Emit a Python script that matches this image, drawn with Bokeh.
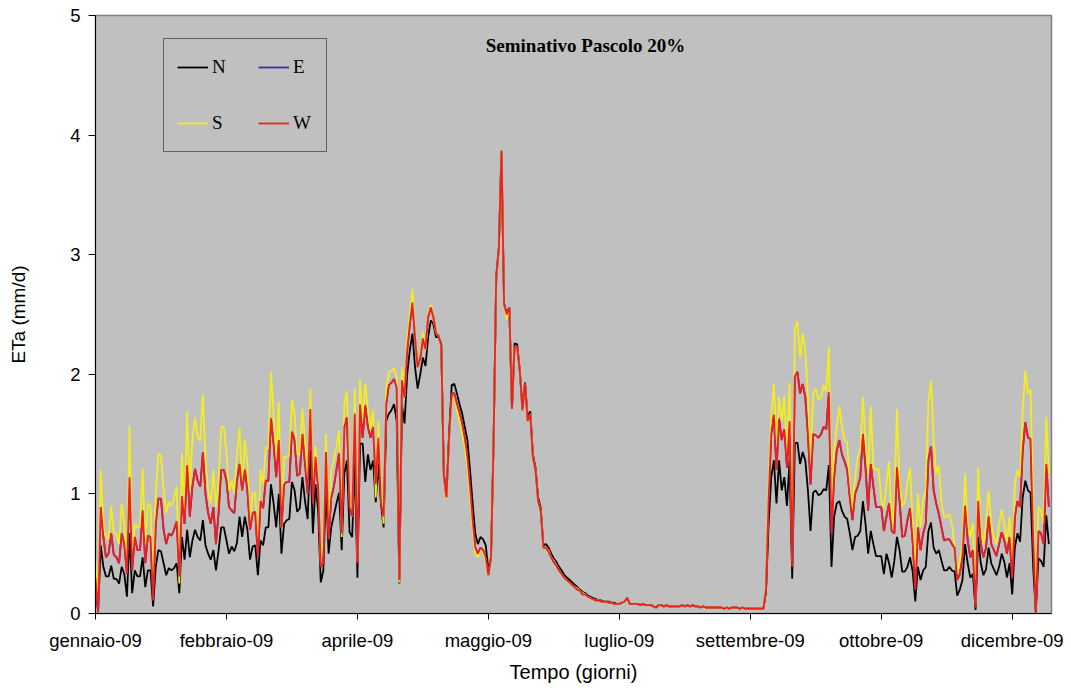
from bokeh.plotting import figure
from bokeh.models import ColumnDataSource, FixedTicker, Range1d, Legend, LegendItem, Label
from bokeh.embed import file_html
from bokeh.resources import INLINE

# ---------------- data ----------------
days = list(range(365))
tick_days = [0, 50, 100, 150, 200, 250, 300, 350]
tick_labels = ["gennaio-09", "febbraio-09", "aprile-09", "maggio-09",
               "luglio-09", "settembre-09", "ottobre-09", "dicembre-09"]
y_ticks = [0, 1, 2, 3, 4, 5]

N_vals = [
    .22, .02, .57, .39, .31, .31, .40, .29, .29, .25,
    .39, .33, .14, .67, .17, .36, .31, .31, .47, .22,
    .36, .36, .06, .39, .53, .52, .42, .32, .38, .36,
    .38, .42, .17, .64, .45, .70, .47, .61, .70, .64,
    .61, .78, .57, .50, .45, .53, .36, .53, .72, .72,
    .61, .50, .56, .52, .59, .81, .64, .81, .70, .45,
    .56, .57, .32, .61, .57, .72, .72, 1.08, .92, .72,
    1.00, .50, .75, .78, .79, 1.10, 1.03, .85, .88, 1.14,
    .94, .79, 1.36, .67, 1.08, .86, .26, .36, 1.08, .50,
    .72, .82, .92, 1.01, .53, 1.17, 1.28, .68, .64, 1.28,
    .30, 1.42, 1.42, 1.10, 1.33, 1.20, 1.28, .93, 1.25, .92,
    .72, 1.61, 1.67, 1.70, 1.75, 1.61, .25, 1.74, 1.59, 2.00,
    2.20, 2.34, 2.06, 1.88, 2.00, 2.14, 2.07, 2.31, 2.45, 2.42,
    2.31, 2.31, 2.25, 1.17, 1.00, 1.50, 1.91, 1.92, 1.84, 1.75,
    1.67, 1.56, 1.45, 1.20, .92, .67, .58, .64, .62, .57,
    .36, .47, 1.45, 2.80, 3.06, 3.85, 2.59, 2.50, 2.56, 1.71,
    2.26, 2.25, 2.03, 1.72, 1.93, 1.64, 1.69, 1.33, 1.22, .97,
    .88, .57, .58, .55, .50, .46, .43, .39, .36, .32,
    .30, .28, .26, .24, .22, .20, .18, .17, .15, .14,
    .13, .12, .11, .11, .10, .10, .10, .09, .09, .08,
    .08, .09, .10, .13, .08, .08, .08, .08, .07, .08,
    .07, .07, .07, .06, .05, .07, .07, .06, .07, .06,
    .06, .06, .06, .06, .07, .06, .07, .06, .07, .06,
    .06, .05, .06, .05, .05, .05, .05, .05, .05, .05,
    .04, .05, .04, .05, .05, .05, .04, .05, .04, .04,
    .04, .04, .04, .04, .04, .04, .18, .75, 1.14, 1.28,
    .92, 1.28, 1.03, 1.14, .90, 1.28, .29, 1.42, 1.43, 1.25,
    1.35, 1.28, 1.03, .69, 1.01, 1.03, .99, 1.00, 1.04, 1.03,
    1.24, .39, .81, .92, .94, .86, .81, .79, .67, .53,
    .64, .65, .69, .94, .75, .50, .69, .58, .48, .48,
    .48, .33, .50, .42, .30, .44, .64, .53, .35, .35,
    .39, .47, .35, .10, .39, .28, .36, .39, .69, .76,
    .55, .50, .53, .44, .36, .36, .39, .36, .35, .15,
    .20, .28, .58, .42, .30, .33, .03, .64, .42, .32,
    .37, .55, .42, .37, .32, .39, .50, .43, .30, .42,
    .16, .55, .67, .60, .97, 1.11, 1.03, 1.01, .39, .01,
    .46, .44, .39, .82, .58,
]

S_vals = [
    .45, .05, 1.20, .72, .64, .62, .90, .67, .67, .58,
    .92, .75, .42, 1.57, .45, .75, .72, .72, 1.21, .58,
    .92, .90, .22, .98, 1.34, 1.32, 1.03, .84, .93, .90,
    .96, 1.06, .25, 1.34, .81, 1.69, 1.03, 1.45, 1.64, 1.48,
    1.44, 1.83, 1.28, 1.03, .92, 1.20, .89, 1.11, 1.56, 1.56,
    1.34, 1.03, 1.11, 1.00, 1.34, 1.55, 1.03, 1.45, 1.25, .75,
    1.00, 1.01, .53, 1.20, 1.08, 1.39, 1.38, 2.02, 1.67, 1.28,
    1.77, .72, 1.31, 1.31, 1.32, 1.79, 1.67, 1.33, 1.33, 1.71,
    1.43, 1.08, 1.88, 1.06, 1.40, 1.15, .42, .64, 1.50, .69,
    1.20, 1.28, 1.39, 1.53, .64, 1.75, 1.86, .97, .81, 1.88,
    .44, 1.96, 1.59, 1.92, 1.70, 1.53, 1.70, .97, 1.61, 1.08,
    .75, 1.86, 2.02, 2.03, 2.05, 1.98, .26, 2.06, 1.81, 2.28,
    2.50, 2.71, 2.34, 2.06, 2.17, 2.35, 2.20, 2.50, 2.58, 2.48,
    2.34, 2.32, 2.23, 1.14, .96, 1.45, 1.78, 1.81, 1.70, 1.61,
    1.50, 1.39, 1.22, .97, .72, .50, .47, .54, .51, .44,
    .32, .47, 1.45, 2.80, 3.06, 3.87, 2.59, 2.46, 2.56, 1.71,
    2.23, 2.23, 2.03, 1.70, 1.92, 1.61, 1.67, 1.31, 1.20, .94,
    .86, .55, .55, .53, .47, .44, .40, .36, .33, .30,
    .28, .26, .24, .22, .21, .19, .17, .16, .14, .13,
    .12, .11, .11, .10, .10, .10, .09, .09, .08, .08,
    .08, .09, .10, .13, .08, .08, .08, .08, .07, .08,
    .07, .07, .07, .06, .05, .07, .07, .06, .07, .06,
    .06, .06, .06, .06, .07, .06, .07, .06, .07, .06,
    .06, .05, .06, .05, .05, .05, .05, .05, .05, .05,
    .04, .05, .04, .05, .05, .05, .04, .05, .04, .04,
    .04, .04, .04, .04, .04, .04, .22, 1.10, 1.64, 1.92,
    1.39, 1.81, 1.61, 1.82, 1.31, 1.93, .44, 2.38, 2.44, 2.14,
    2.34, 2.20, 1.81, 1.22, 1.84, 1.88, 1.79, 1.81, 1.91, 1.86,
    2.23, .94, 1.36, 1.56, 1.73, 1.56, 1.45, 1.43, 1.06, .86,
    1.14, 1.31, 1.36, 1.81, 1.42, 1.17, 1.73, 1.22, 1.20, 1.21,
    .94, .88, 1.08, 1.27, .69, .92, 1.71, 1.08, .90, .93,
    1.10, 1.22, .75, .35, 1.00, .72, .95, 1.03, 1.78, 1.95,
    1.45, 1.17, 1.24, .92, .81, .81, .83, .75, .55, .33,
    .44, .58, 1.17, .75, .64, .75, .08, 1.22, .69, .58,
    .75, 1.03, .75, .64, .58, .75, .87, .75, .60, .81,
    .39, 1.08, 1.20, 1.14, 1.70, 2.03, 1.84, 1.87, .92, .03,
    .89, .86, .75, 1.64, 1.17,
]

W_vals = [
    .30, .01, .89, .64, .47, .50, .67, .49, .47, .42,
    .67, .58, .33, 1.14, .36, .64, .53, .53, .86, .42,
    .65, .64, .11, .75, .96, .96, .70, .58, .67, .65,
    .70, .77, .31, .98, .75, 1.24, .81, 1.06, 1.21, 1.11,
    1.06, 1.35, 1.00, .84, .75, .89, .58, .84, 1.20, 1.20,
    1.11, .89, .86, .84, 1.11, 1.25, 1.03, 1.20, 1.03, .70,
    .84, .85, .47, .94, .88, 1.11, 1.11, 1.63, 1.42, 1.14,
    1.45, .72, 1.08, 1.10, 1.10, 1.52, 1.45, 1.15, 1.17, 1.50,
    1.25, 1.00, 1.71, .92, 1.31, 1.06, .39, .42, 1.35, .62,
    .97, 1.06, 1.20, 1.34, .67, 1.56, 1.64, .89, .81, 1.67,
    .42, 1.75, 1.47, 1.74, 1.56, 1.47, 1.56, 1.08, 1.47, .92,
    .81, 1.75, 1.91, 1.93, 1.96, 1.89, .28, 1.95, 1.81, 2.20,
    2.42, 2.60, 2.31, 2.06, 2.14, 2.30, 2.21, 2.48, 2.56, 2.48,
    2.34, 2.32, 2.24, 1.15, .97, 1.47, 1.84, 1.84, 1.75, 1.68,
    1.59, 1.47, 1.31, 1.06, .78, .55, .50, .55, .53, .47,
    .32, .47, 1.45, 2.82, 3.06, 3.87, 2.59, 2.50, 2.56, 1.71,
    2.23, 2.23, 2.03, 1.70, 1.92, 1.61, 1.67, 1.31, 1.20, .94,
    .86, .55, .55, .52, .47, .43, .40, .36, .33, .30,
    .28, .26, .24, .22, .20, .19, .16, .16, .14, .13,
    .12, .11, .11, .10, .10, .10, .09, .09, .08, .08,
    .08, .09, .10, .13, .08, .08, .08, .08, .07, .08,
    .07, .07, .07, .06, .05, .07, .07, .06, .07, .06,
    .06, .06, .06, .06, .07, .06, .07, .06, .07, .06,
    .06, .05, .06, .05, .05, .05, .05, .05, .05, .05,
    .04, .05, .04, .05, .05, .05, .04, .05, .04, .04,
    .04, .04, .04, .04, .04, .04, .20, .95, 1.50, 1.66,
    1.20, 1.63, 1.45, 1.54, 1.22, 1.61, .39, 1.98, 2.02, 1.84,
    1.92, 1.81, 1.50, 1.08, 1.50, 1.49, 1.47, 1.50, 1.56, 1.54,
    1.85, .67, 1.14, 1.36, 1.45, 1.33, 1.27, 1.20, .97, .78,
    1.00, 1.06, 1.14, 1.50, 1.22, .86, 1.25, 1.06, .89, .89,
    .89, .69, .81, .92, .69, .67, 1.22, .94, .64, .65,
    .78, .88, .60, .20, .72, .53, .67, .75, 1.28, 1.40,
    1.03, .92, .83, .72, .61, .62, .62, .58, .55, .28,
    .33, .47, .90, .61, .47, .53, .05, .94, .58, .47,
    .55, .81, .58, .53, .48, .58, .68, .61, .50, .64,
    .30, .81, .94, .89, 1.36, 1.60, 1.47, 1.46, .64, .01,
    .69, .67, .58, 1.25, .89,
]

# E is drawn under W and is indistinguishable from it in the picture
E_vals = list(W_vals)

assert len(N_vals) == len(S_vals) == len(W_vals) == len(days)

# ---------------- figure ----------------
src = ColumnDataSource(dict(d=days, N=N_vals, E=E_vals, S=S_vals, W=W_vals))

p = figure(width=1071, height=688,
           x_range=Range1d(0, 365), y_range=Range1d(0, 5),
           output_backend="svg", toolbar_location=None,
           min_border_left=95, min_border_right=20,
           min_border_top=15, min_border_bottom=75)

p.background_fill_color = "#C0C0C0"
p.border_fill_color = "white"
p.outline_line_color = "#808080"
p.outline_line_width = 1.5
p.grid.visible = False

lw = 1.8
rN = p.line("d", "N", source=src, line_color="black", line_width=lw)
rE = p.line("d", "E", source=src, line_color="#333399", line_width=lw)
rS = p.line("d", "S", source=src, line_color="#F4EC22", line_width=lw)
rW = p.line("d", "W", source=src, line_color="#F01E1E", line_width=lw)

# axes
xa = p.xaxis[0]
xa.ticker = FixedTicker(ticks=tick_days)
xa.major_label_overrides = {d: lab for d, lab in zip(tick_days, tick_labels)}
xa.minor_tick_line_color = None
xa.major_tick_in = 0
xa.major_tick_out = 6
xa.major_label_standoff = 10
xa.major_label_text_font = "Liberation Sans"
xa.major_label_text_font_size = "18.5px"
xa.major_label_text_color = "black"
xa.axis_label = "Tempo (giorni)"
xa.axis_label_text_font = "Liberation Sans"
xa.axis_label_text_font_size = "20px"
xa.axis_label_text_font_style = "normal"
xa.axis_label_text_color = "black"
xa.axis_label_standoff = 7
xa.axis_line_color = "black"

ya = p.yaxis[0]
ya.ticker = FixedTicker(ticks=y_ticks)
ya.minor_tick_line_color = None
ya.major_tick_in = 0
ya.major_tick_out = 7
ya.major_label_standoff = 8
ya.major_label_text_font = "Liberation Sans"
ya.major_label_text_font_size = "18.5px"
ya.major_label_text_color = "black"
ya.axis_label = "ETa (mm/d)"
ya.axis_label_text_font = "Liberation Sans"
ya.axis_label_text_font_size = "19px"
ya.axis_label_text_font_style = "normal"
ya.axis_label_text_color = "black"
ya.axis_label_standoff = 38
ya.axis_line_color = "black"

# title inside the plot area
p.add_layout(Label(x=490, y=568, x_units="screen", y_units="screen",
                   text="Seminativo Pascolo 20%", text_align="center",
                   text_baseline="middle", text_font="Liberation Serif",
                   text_font_style="bold", text_font_size="19px",
                   text_color="black"))

legend = Legend(items=[LegendItem(label="N", renderers=[rN]),
                       LegendItem(label="E", renderers=[rE]),
                       LegendItem(label="S", renderers=[rS]),
                       LegendItem(label="W", renderers=[rW])],
                ncols=2, orientation="horizontal", location=(68, 461),
                label_text_font="Liberation Serif", label_text_font_size="19px",
                label_text_color="black",
                glyph_width=31, glyph_height=30, label_height=30,
                label_standoff=4, spacing=26, padding=13, margin=0,
                border_line_color="black", border_line_width=1,
                background_fill_alpha=0)
p.add_layout(legend)

open("out.html", "w").write(file_html(p, INLINE))
